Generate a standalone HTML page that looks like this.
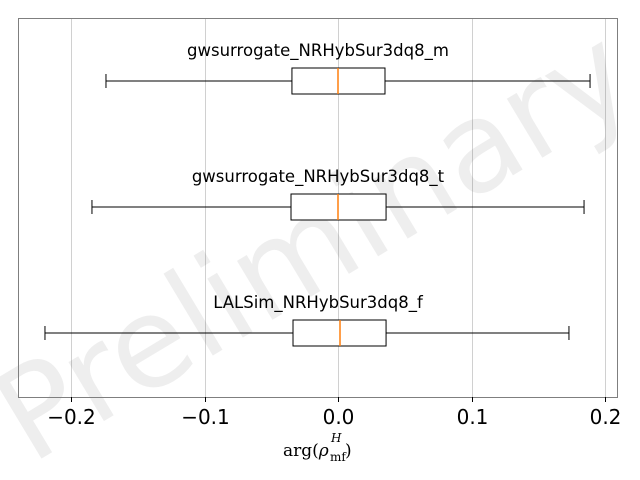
<!DOCTYPE html>
<html><head><meta charset="utf-8"><style>
html,body{margin:0;padding:0;background:#fff;width:640px;height:480px;overflow:hidden}
svg{display:block}
</style></head><body>
<svg id="chart" width="640" height="480" viewBox="0 0 640 480" xmlns="http://www.w3.org/2000/svg" font-family="'DejaVu Sans','Liberation Sans',sans-serif">
<g id="grid"></g>
<text x="318" y="252" text-anchor="middle" dominant-baseline="middle" font-size="126" fill="#000" fill-opacity="0.065" transform="rotate(-31 318 252)">Preliminary</text>
<g id="boxes"></g>
<rect x="18.5" y="18.5" width="599" height="379" fill="none" stroke="#7f7f7f" stroke-width="1"/>
<g id="ticks"></g>
<g font-family="'DejaVu Serif','Liberation Serif',serif" fill="#000">
<text x="283" y="456" font-size="17">arg(<tspan font-style="italic">ρ</tspan></text>
<text x="331" y="442" font-size="12" font-style="italic">H</text>
<text x="330" y="461" font-size="12">mf</text>
<text x="345" y="456" font-size="17">)</text>
</g>
</svg>
<script>
const labels = ["gwsurrogate_NRHybSur3dq8_m","gwsurrogate_NRHybSur3dq8_t","LALSim_NRHybSur3dq8_f"];
const whiskerLow = [-0.1738,-0.1843,-0.2195];
const q1 = [-0.0345,-0.0352,-0.0337];
const median = [0.0,0.0,0.0015];
const q3 = [0.0352,0.036,0.036];
const whiskerHigh = [0.1888,0.1843,0.173];
const tickValues = [-0.2,-0.1,0.0,0.1,0.2];
const tickLabels = ["\u22120.2","\u22120.1","0.0","0.1","0.2"];
const NS="http://www.w3.org/2000/svg";
function xs(v){return 338+v*1335;}
function ys(i){return 81+i*126;}
function mk(tag,attrs,parent){const e=document.createElementNS(NS,tag);for(const k in attrs)e.setAttribute(k,attrs[k]);parent.appendChild(e);return e;}
const grid=document.getElementById('grid'),ticks=document.getElementById('ticks'),boxes=document.getElementById('boxes');
tickValues.forEach((v,i)=>{
  const x=Math.round(xs(v))+0.5;
  const g=mk('line',{x1:x,x2:x,y1:18,y2:397,stroke:'#d0d0d0','stroke-width':1},grid);
  
  
  const t=mk('line',{x1:x,x2:x,y1:397,y2:402,stroke:'#000','stroke-width':1},ticks);
  
  
  const l=mk('text',{x:x,y:424,'text-anchor':'middle','font-size':20,fill:'#000'},ticks);
  l.textContent=tickLabels[i];
  
  
});
labels.forEach((lab,i)=>{
  const y=ys(i);
  const g=mk('g',{},boxes);
  
  
  const a=xs(whiskerLow[i]),b=xs(q1[i]),c=xs(q3[i]),d=xs(whiskerHigh[i]),m=xs(median[i]);
  mk('line',{x1:a,x2:b,y1:y,y2:y,stroke:'#000'},g);
  mk('line',{x1:c,x2:d,y1:y,y2:y,stroke:'#000'},g);
  mk('line',{x1:a,x2:a,y1:y-7,y2:y+7,stroke:'#000'},g);
  mk('line',{x1:d,x2:d,y1:y-7,y2:y+7,stroke:'#000'},g);
  mk('rect',{x:b,y:y-13,width:c-b,height:26,fill:'#fff',stroke:'#000'},g);
  mk('line',{x1:m,x2:m,y1:y-13,y2:y+13,stroke:'#ff7f0e','stroke-width':1.5},g);
  const t=mk('text',{x:318,y:y-25,'text-anchor':'middle','font-size':16.5,fill:'#000'},boxes);
  t.textContent=lab;
  
  
});
</script>
</body></html>
